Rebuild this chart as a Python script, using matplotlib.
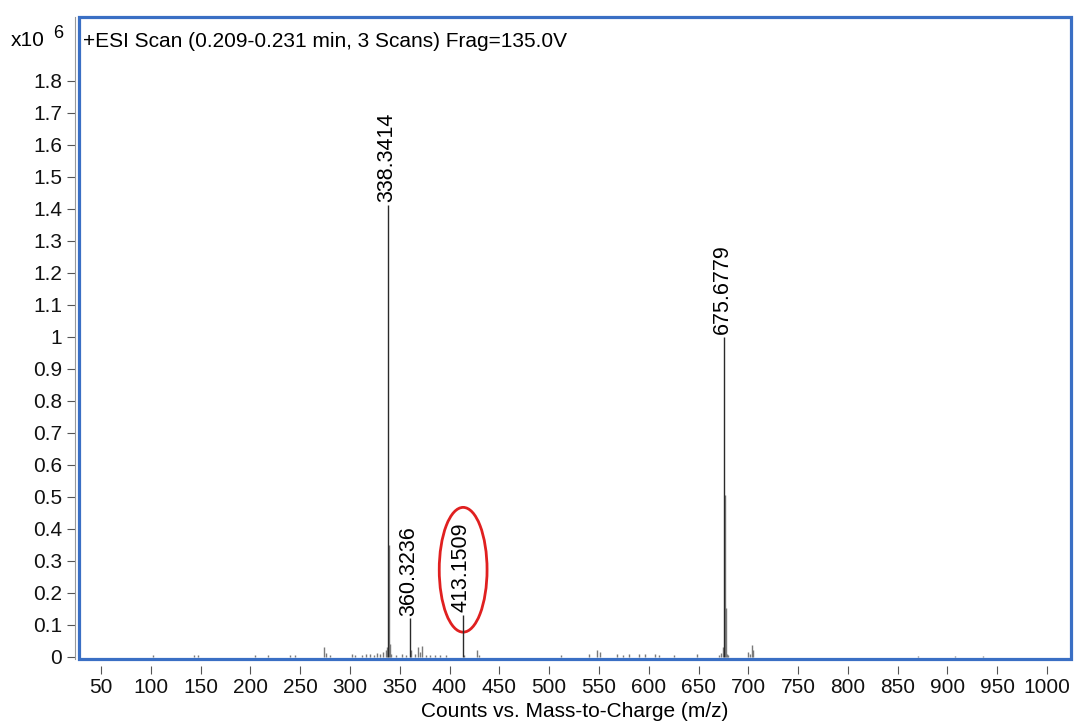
import matplotlib.pyplot as plt
from matplotlib.patches import Ellipse, Rectangle
from matplotlib.ticker import FuncFormatter

plt.rcParams['font.family'] = ['Liberation Sans', 'DejaVu Sans']

# labelled peaks (m/z, counts x10^6)
label_mz = [338.3414, 360.3236, 413.1509, 675.6779]
label_int = [1.412, 0.120, 0.130, 1.000]

# other centroid peaks
peak_mz = [102, 143, 147, 205, 218, 240, 245, 274, 276, 280, 302, 305, 312, 316,
           320, 324, 327, 330, 333, 336, 337, 339.34, 340.35, 341.3, 346, 352, 356,
           361.3, 365, 368, 370, 372, 376, 380, 385, 390, 396, 415, 428, 430,
           512, 540, 548, 551, 568, 574, 580, 590, 596, 606, 610, 625, 648,
           671, 673, 674.7, 676.68, 677.68, 678.7, 680, 700, 702, 704, 705,
           870, 908, 936]
peak_int = [0.005, 0.004, 0.005, 0.004, 0.004, 0.005, 0.005, 0.030, 0.012, 0.005, 0.010, 0.005, 0.006, 0.008,
            0.010, 0.006, 0.012, 0.008, 0.015, 0.020, 0.030, 0.350, 0.040, 0.010, 0.006, 0.008, 0.005,
            0.020, 0.010, 0.030, 0.015, 0.035, 0.006, 0.005, 0.004, 0.005, 0.004, 0.006, 0.020, 0.005,
            0.005, 0.010, 0.020, 0.015, 0.008, 0.006, 0.010, 0.010, 0.008, 0.010, 0.005, 0.005, 0.008,
            0.004, 0.012, 0.030, 0.505, 0.152, 0.010, 0.005, 0.015, 0.010, 0.038, 0.020,
            0.003, 0.003, 0.003]

x_ticks = list(range(50, 1001, 50))
y_ticks = [i / 10 for i in range(0, 19)]

fig = plt.figure(figsize=(10.76, 7.24), dpi=100)
ax = fig.add_axes([79 / 1076, 1 - 659 / 724, (1071 - 79) / 1076, (659 - 17) / 724])

ax.vlines(peak_mz, 0, peak_int, color='#7a7a7a', linewidth=1.0)
ax.vlines(label_mz, 0, label_int, color='#2a2a2a', linewidth=1.0)

for mz, h in zip(label_mz, label_int):
    ax.annotate(f'{mz:.4f}', xy=(mz, h), xytext=(-1, 2), textcoords='offset points',
                rotation=90, ha='center', va='bottom', fontsize=15.5, color='black')

# red highlight around 413.1509
ax.add_patch(Ellipse((413.7, 0.272), 48, 0.39, fill=False, edgecolor='#e02020', linewidth=2))

ax.set_xlim(28, 1024)
ax.set_ylim(-0.007, 2.0)
ax.set_xticks(x_ticks)
ax.set_yticks(y_ticks)
ax.yaxis.set_major_formatter(FuncFormatter(lambda v, p: f'{v:g}'))
ax.tick_params(direction='out', length=6, width=0.8, color='#555555', labelsize=15,
               labelcolor='#111111', pad=3)

for s in ax.spines.values():
    s.set_visible(False)
ax.spines['left'].set_visible(True)
ax.spines['left'].set_color('#999999')
ax.spines['left'].set_linewidth(0.8)
ax.spines['left'].set_position(('outward', 3))
ax.spines['bottom'].set_position(('outward', 5))

ax.add_patch(Rectangle((0, 0), 1, 1, transform=ax.transAxes, fill=False,
                       edgecolor='#3a6fc4', linewidth=2.3, clip_on=False, zorder=5))

ax.text(0.004, 0.977, '+ESI Scan (0.209-0.231 min, 3 Scans) Frag=135.0V',
        transform=ax.transAxes, ha='left', va='top', fontsize=15)
fig.text(11 / 1076, 1 - 40 / 724, 'x10', fontsize=15, va='center', ha='left')
fig.text(53 / 1076, 1 - 34 / 724, '6', fontsize=13, va='center', ha='left')

ax.set_xlabel('Counts vs. Mass-to-Charge (m/z)', fontsize=15, labelpad=3)

plt.savefig('out.png', dpi=100)
